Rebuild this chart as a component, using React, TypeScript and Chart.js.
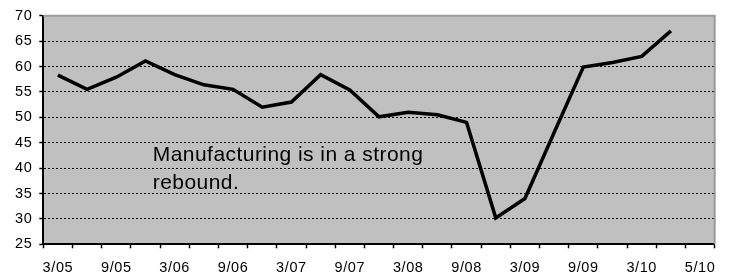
import React, { useEffect, useRef } from "react";
import { Chart, registerables } from "chart.js";

Chart.register(...registerables);

const categories: string[] = [
  "3/05", "", "9/05", "", "3/06", "", "9/06", "", "3/07", "", "9/07", "",
  "3/08", "", "9/08", "", "3/09", "", "9/09", "", "3/10", "", "5/10",
];

const manufacturing: number[] = [
  58.3, 55.5, 57.9, 61.1, 58.4, 56.4, 55.5, 52.0, 53.0, 58.4, 55.4,
  50.1, 51.0, 50.5, 49.0, 30.2, 34.0, 47.0, 59.9, 60.8, 62.0, 67.0,
];

const yMin = 25;
const yMax = 70;
const yStep = 5;

const annotationLines: string[] = ["Manufacturing is in a strong", "rebound."];
const annotationX = 3.25; // category-axis position of the text's left edge
const annotationY: number[] = [41.4, 35.8]; // value-axis baselines

const FONT = '"Liberation Sans", Arial, Helvetica, sans-serif';

const plotDecor = {
  id: "plotDecor",
  beforeDraw(chart: any) {
    const { ctx, chartArea: a } = chart;
    (ctx as any).letterSpacing = "0.6px";
    ctx.save();
    ctx.fillStyle = "#c0c0c0";
    ctx.fillRect(a.left, a.top, a.right - a.left, a.bottom - a.top);
    ctx.restore();
  },
  beforeDatasetsDraw(chart: any) {
    const { ctx, chartArea: a } = chart;
    ctx.save();
    ctx.strokeStyle = "#9a9a9a";
    ctx.lineWidth = 2;
    ctx.beginPath();
    ctx.moveTo(a.left, a.top);
    ctx.lineTo(a.right, a.top);
    ctx.lineTo(a.right, a.bottom);
    ctx.stroke();
    ctx.restore();
  },
  afterDatasetsDraw(chart: any) {
    const { ctx } = chart;
    const xs = chart.scales.x;
    const ys = chart.scales.y;
    ctx.save();
    ctx.fillStyle = "#000";
    ctx.font = `21px ${FONT}`;
    (ctx as any).letterSpacing = "0.45px";
    ctx.textAlign = "left";
    ctx.textBaseline = "alphabetic";
    const x = xs.getPixelForValue(annotationX);
    annotationLines.forEach((line, i) => {
      ctx.fillText(line, x, ys.getPixelForValue(annotationY[i]));
    });
    ctx.restore();
  },
  afterDraw(chart: any) {
    (chart.ctx as any).letterSpacing = "0px";
  },
};

export default function App() {
  const ref = useRef<HTMLCanvasElement | null>(null);

  useEffect(() => {
    if (!ref.current) return;
    const chart = new Chart(ref.current, {
      type: "line",
      data: {
        labels: categories,
        datasets: [
          {
            data: manufacturing,
            borderColor: "#000",
            borderWidth: 3.5,
            borderJoinStyle: "miter",
            pointRadius: 0,
            tension: 0,
            fill: false,
          },
        ],
      },
      options: {
        animation: false,
        responsive: true,
        maintainAspectRatio: false,
        layout: { padding: { top: 14.7, right: 18.3, left: 0, bottom: 0 } },
        plugins: { legend: { display: false }, tooltip: { enabled: false } },
        scales: {
          x: {
            type: "category",
            offset: true,
            afterFit(scale: any) {
              scale.height = 33.7;
            },
            grid: {
              offset: true,
              drawOnChartArea: false,
              drawTicks: true,
              tickLength: 4,
              tickColor: "#000",
              tickWidth: 1.5,
            },
            border: { display: true, color: "#000", width: 2 },
            ticks: {
              autoSkip: false,
              maxRotation: 0,
              minRotation: 0,
              padding: 11,
              color: "#000",
              font: { family: FONT, size: 14.5 },
            },
          },
          y: {
            min: yMin,
            max: yMax,
            afterFit(scale: any) {
              scale.width = 43.3;
            },
            grid: {
              color: (c: any) =>
                c.tick && (c.tick.value === yMax || c.tick.value === yMin)
                  ? "rgba(0,0,0,0)"
                  : "#000",
              lineWidth: 1,
              drawTicks: true,
              tickLength: 4,
              tickColor: "#000",
              tickWidth: 1.5,
            },
            border: { display: true, color: "#000", width: 2, dash: [2, 2] },
            ticks: {
              stepSize: yStep,
              padding: 7,
              color: "#000",
              font: { family: FONT, size: 14.5 },
            },
          },
        },
      },
      plugins: [plotDecor],
    });
    return () => chart.destroy();
  }, []);

  return (
    <div style={{ position: "absolute", left: 0, top: 0, width: 733, height: 278 }}>
      <canvas ref={ref} />
    </div>
  );
}
